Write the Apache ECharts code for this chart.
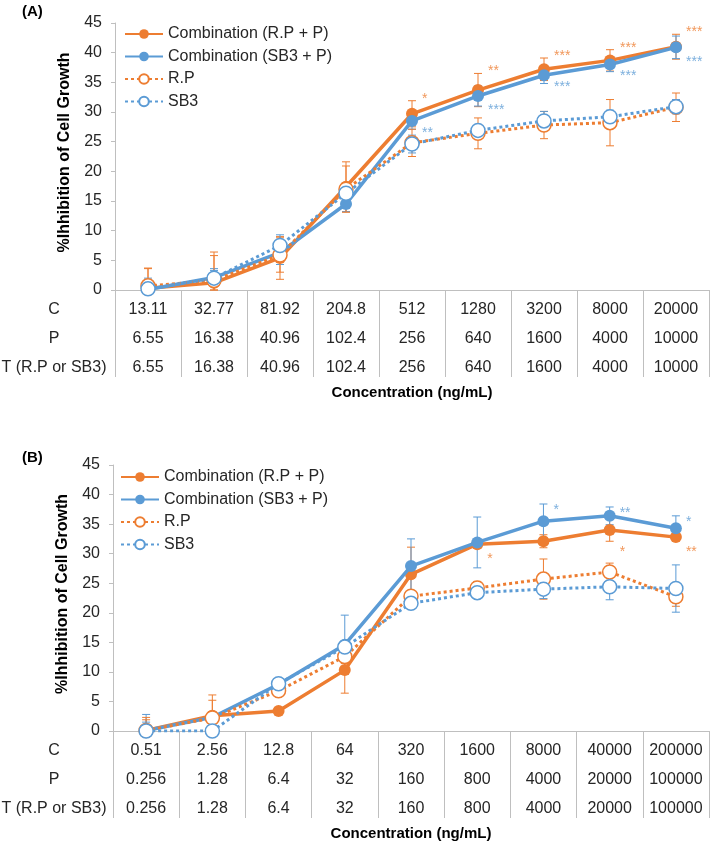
<!DOCTYPE html>
<html><head><meta charset="utf-8">
<script src="https://cdn.jsdelivr.net/npm/echarts@6/dist/echarts.min.js"></script>
<style>html,body{margin:0;padding:0;background:#fff}#c{width:713px;height:849px}</style>
</head><body><div id="c"></div>
<script>
// ---------- DATA ----------
const seriesNames = ['Combination (R.P + P)', 'Combination (SB3 + P)', 'R.P', 'SB3'];
const rowLabels = ['C', 'P', 'T (R.P or SB3)'];
const panelLabels = ['(A)', '(B)'];
const yAxisTitle = '%Ihhibition of Cell Growth';
const xAxisTitle = 'Concentration (ng/mL)';
const yTicks = { min: 0, max: 45, step: 5 };

// Panel A
const concC_A = ['13.11', '32.77', '81.92', '204.8', '512', '1280', '3200', '8000', '20000'];
const concP_A = ['6.55', '16.38', '40.96', '102.4', '256', '640', '1600', '4000', '10000'];
const concT_A = ['6.55', '16.38', '40.96', '102.4', '256', '640', '1600', '4000', '10000'];
const combRP_A  = [0.3, 1.2, 5.4, 17.4, 29.7, 33.7, 37.2, 38.7, 41.0];
const combSB3_A = [0.1, 2.1, 6.3, 14.5, 28.5, 32.7, 36.2, 38.0, 40.9];
const RP_A      = [0.7, 1.6, 5.9, 17.0, 24.8, 26.4, 27.8, 28.2, 30.8];
const SB3_A     = [0.2, 2.0, 7.5, 16.3, 24.6, 26.9, 28.5, 29.2, 30.9];
const errCombRP_A  = [3.3, 5.2, 3.6, 4.2, 2.2, 2.8, 1.9, 1.8, 2.1];
const errCombSB3_A = [1.4, 1.5, 2.0, 1.3, 1.4, 1.7, 1.4, 1.2, 1.9];
const errRP_A      = [3.0, 4.2, 2.9, 3.9, 2.3, 2.6, 2.3, 3.9, 2.4];
const errSB3_A     = [1.8, 1.3, 1.8, 1.5, 1.5, 1.0, 1.6, 1.1, 1.2];
const starsCombRP_A  = ['', '', '', '', '*', '**', '***', '***', '***'];
const starsCombSB3_A = ['', '', '', '', '**', '***', '***', '***', '***'];

// Panel B
const concC_B = ['0.51', '2.56', '12.8', '64', '320', '1600', '8000', '40000', '200000'];
const concP_B = ['0.256', '1.28', '6.4', '32', '160', '800', '4000', '20000', '100000'];
const concT_B = ['0.256', '1.28', '6.4', '32', '160', '800', '4000', '20000', '100000'];
const combRP_B  = [0.1, 2.6, 3.4, 10.3, 26.5, 31.6, 32.1, 34.0, 32.8];
const combSB3_B = [0.1, 2.3, 7.9, 14.6, 27.9, 31.9, 35.5, 36.4, 34.3];
const RP_B      = [0.1, 2.2, 6.8, 12.6, 22.8, 24.2, 25.7, 26.9, 22.7];
const SB3_B     = [0.0, 0.0, 8.0, 14.2, 21.6, 23.4, 24.0, 24.4, 24.1];
const errCombRP_B  = [1.8, 3.5, 0.5, 3.9, 4.6, 0.7, 1.1, 1.9, 0.6];
const errCombSB3_B = [2.7, 1.0, 0.8, 5.0, 4.6, 4.3, 2.9, 1.5, 2.1];
const errRP_B      = [2.2, 3.0, 0.6, 1.2, 0.6, 1.1, 3.4, 1.5, 1.6];
const errSB3_B     = [1.5, 0.2, 0.5, 1.0, 0.8, 0.5, 1.6, 2.2, 4.0];
const starsCombRP_B  = ['', '', '', '', '', '*', '', '*', '**'];
const starsCombSB3_B = ['', '', '', '', '', '', '*', '**', '*'];

// ---------- STYLE ----------
const ORANGE = '#ED7D31', BLUE = '#5B9BD5';
const TXT = '#262626', GRID = '#bfbfbf';
const FONT = '"Liberation Sans", Arial, sans-serif';
const ROW_H = 28.7, ROW0 = 20;

const panels = [
  { C: concC_A, P: concP_A, T: concT_A,
    vals: [combRP_A, combSB3_A, RP_A, SB3_A],
    errs: [errCombRP_A, errCombSB3_A, errRP_A, errSB3_A],
    stars: [starsCombRP_A, starsCombSB3_A], starDir: [1, -1], starOff: [-2, 4],
    grid: { left: 115, right: 4, top: 23, height: 267 }, legendTop: 21, legendLeft: 119, labelY: 12 },
  { C: concC_B, P: concP_B, T: concT_B,
    vals: [combRP_B, combSB3_B, RP_B, SB3_B],
    errs: [errCombRP_B, errCombSB3_B, errRP_B, errSB3_B],
    stars: [starsCombRP_B, starsCombSB3_B], starDir: [-1, 1], starOff: [11, 6],
    grid: { left: 113, right: 4, top: 465, height: 266 }, legendTop: 464, legendLeft: 115, labelY: 458 }
];

const colors = [ORANGE, BLUE, ORANGE, BLUE];
const solid = [true, true, false, false];

function errRender(color) {
  return function (params, api) {
    const x = api.value(0), v = api.value(1), e = api.value(2);
    const hi = api.coord([x, v + e]);
    const lo = api.coord([x, Math.max(v - e, 0)]);
    const c = 4;
    const st = { stroke: color, lineWidth: 1 };
    return { type: 'group', children: [
      { type: 'line', shape: { x1: hi[0], y1: hi[1], x2: lo[0], y2: lo[1] }, style: st },
      { type: 'line', shape: { x1: hi[0] - c, y1: hi[1], x2: hi[0] + c, y2: hi[1] }, style: st },
      { type: 'line', shape: { x1: lo[0] - c, y1: lo[1], x2: lo[0] + c, y2: lo[1] }, style: st }
    ]};
  };
}

const grids = [], xAxes = [], yAxes = [], series = [], legends = [], graphics = [];

panels.forEach((pn, g) => {
  grids.push(Object.assign({ outerBoundsMode: 'none', containLabel: false }, pn.grid));
  xAxes.push({
    type: 'category', gridIndex: g, data: pn.C, boundaryGap: true,
    axisLine: { show: true, lineStyle: { color: GRID, width: 1 } },
    axisTick: { show: true, alignWithLabel: false, interval: 0, length: 87, lineStyle: { color: GRID } },
    axisLabel: { interval: 0, margin: ROW0 - ROW_H / 2, fontSize: 16, lineHeight: ROW_H, color: TXT, fontFamily: FONT,
      formatter: (v, i) => pn.C[i] + '\n' + pn.P[i] + '\n' + pn.T[i] },
    splitLine: { show: false },
    name: xAxisTitle, nameLocation: 'middle', nameGap: 95,
    nameTextStyle: { fontSize: 15, fontWeight: 'bold', color: '#000', fontFamily: FONT }
  });
  yAxes.push({
    type: 'value', gridIndex: g, min: yTicks.min, max: yTicks.max, interval: yTicks.step,
    axisLine: { show: true, lineStyle: { color: GRID } },
    axisTick: { show: true, length: 4, lineStyle: { color: GRID } }, splitLine: { show: false },
    axisLabel: { fontSize: 16, color: TXT, margin: 13, fontFamily: FONT },
    name: yAxisTitle, nameLocation: 'middle', nameGap: 42,
    nameTextStyle: { fontSize: 16, fontWeight: 'bold', color: '#000', fontFamily: FONT, padding: [0, 0, 0, 8] }
  });

  // error bars
  pn.vals.forEach((arr, s) => {
    series.push({
      type: 'custom', xAxisIndex: g, yAxisIndex: g, silent: true, z: 2,
      renderItem: errRender(colors[s]),
      data: arr.map((v, i) => [i, v, pn.errs[s][i]])
    });
  });
  // lines
  pn.vals.forEach((arr, s) => {
    series.push({
      type: 'line', name: seriesNames[s], xAxisIndex: g, yAxisIndex: g, z: 3 + s,
      data: arr,
      symbol: 'circle', symbolSize: solid[s] ? 12 : 14, showAllSymbol: true,
      lineStyle: { color: colors[s], width: solid[s] ? 3.5 : 3, type: solid[s] ? 'solid' : [3, 3] },
      itemStyle: solid[s] ? { color: colors[s] } : { color: '#fff', borderColor: colors[s], borderWidth: 1.5 },
      emphasis: { disabled: true }, animation: false
    });
  });
  // significance stars
  [0, 1].forEach(s => {
    const starArr = pn.stars[s];
    const d = [];
    starArr.forEach((t, i) => {
      if (t) d.push([i, pn.vals[s][i] + pn.starDir[s] * pn.errs[s][i], t]);
    });
    series.push({
      type: 'scatter', xAxisIndex: g, yAxisIndex: g, symbolSize: 0, silent: true, z: 10,
      data: d,
      label: { show: true, position: 'right', distance: 10, offset: [0, pn.starOff[s]],
        formatter: p => p.data[2], color: colors[s], fontSize: 14, fontFamily: FONT },
      animation: false
    });
  });

  legends.push({
    orient: 'vertical', left: pn.legendLeft, top: pn.legendTop,
    itemWidth: 38, itemHeight: 12, itemGap: 6.5,
    textStyle: { fontSize: 16, color: TXT, fontFamily: FONT },
    data: seriesNames, selectedMode: false
  });

  // row labels of the table and panel letter
  const gy = pn.grid.top + pn.grid.height;
  rowLabels.forEach((r, k) => {
    graphics.push({ type: 'text', x: 54, y: gy + ROW0 + ROW_H * k,
      style: { text: r, fontSize: 16, fill: TXT, fontFamily: FONT, align: 'center', verticalAlign: 'middle' } });
  });
  graphics.push({ type: 'text', x: 22, y: pn.labelY,
    style: { text: panelLabels[g], fontSize: 15, fontWeight: 'bold', fill: '#000', fontFamily: FONT, verticalAlign: 'middle' } });
});

const chart = echarts.init(document.getElementById('c'), null, { renderer: 'canvas' });
chart.setOption({
  backgroundColor: '#fff', animation: false,
  textStyle: { fontFamily: FONT },
  grid: grids, xAxis: xAxes, yAxis: yAxes, series: series, legend: legends, graphic: graphics
});
</script></body></html>
